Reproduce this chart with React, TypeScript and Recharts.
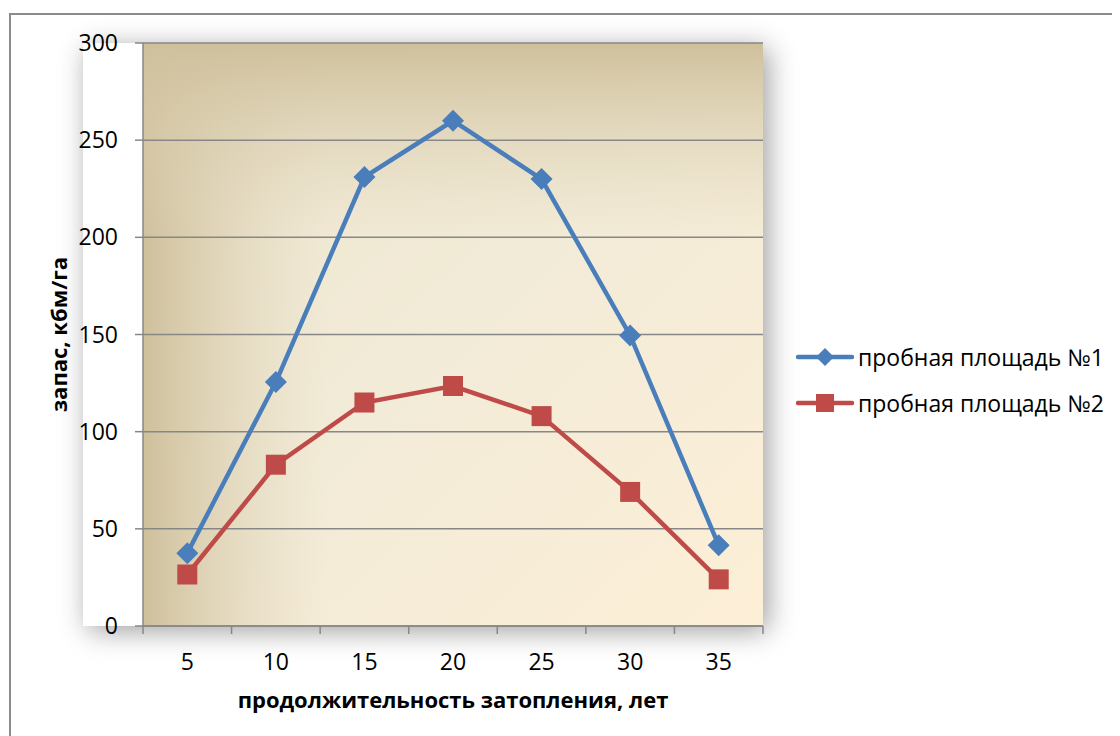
import React from 'react';
import { LineChart, Line, XAxis, YAxis, CartesianGrid, Legend } from 'recharts';

// Flooding duration, years
const years = [5, 10, 15, 20, 25, 30, 35];
// Growing stock, m3/ha
const plot1 = [37.5, 125.5, 231, 260, 230, 149.5, 41.5];
const plot2 = [26.5, 83, 115, 123.5, 108, 69, 24];
const yTicks = [0, 50, 100, 150, 200, 250, 300];

const seriesNames = ['пробная площадь №1', 'пробная площадь №2'];
const BLUE = '#4a7ebb';
const RED = '#be4b48';
const AXIS = '#878787';
const FONT = '"Open Sans", "Noto Sans", sans-serif';

const data = years.map((y, i) => ({ year: y, s1: plot1[i], s2: plot2[i] }));

const W = 1112;
const H = 728;
const M = { top: 35, right: 357, bottom: 50, left: 75 };
const X_AXIS_H = 60;
const PLOT_W = W - M.left - M.right;
const PLOT_H = H - M.top - M.bottom - X_AXIS_H;
const BAND = PLOT_W / years.length;

const DIAMOND_R = 11;
const SQUARE_S = 20;

const Diamond = (props: any) => {
  const { cx, cy, half } = props;
  if (cx == null || cy == null) return null;
  const r = half || DIAMOND_R;
  return (
    <path
      d={`M${cx},${cy - r} L${cx + r},${cy} L${cx},${cy + r} L${cx - r},${cy} Z`}
      fill={BLUE}
    />
  );
};

const Square = (props: any) => {
  const { cx, cy, side } = props;
  if (cx == null || cy == null) return null;
  const s = side || SQUARE_S;
  return <rect x={cx - s / 2} y={cy - s / 2} width={s} height={s} fill={RED} />;
};

const XTick = (props: any) => {
  const { x, y, payload, index } = props;
  const half = payload && payload.offset ? payload.offset : BAND / 2;
  const last = index === years.length - 1;
  return (
    <g>
      <line x1={x - half} x2={x - half} y1={y} y2={y + 8} stroke={AXIS} strokeWidth={1.5} />
      {last && (
        <line x1={x + half} x2={x + half} y1={y} y2={y + 8} stroke={AXIS} strokeWidth={1.5} />
      )}
      <text x={x} y={y + 44} textAnchor="middle" fontSize={23} fill="#000" fontFamily={FONT}>
        {payload.value}
      </text>
    </g>
  );
};

const LegendContent = () => (
  <div style={{ fontFamily: FONT, fontSize: 23, color: '#000' }}>
    {seriesNames.map((name, i) => (
      <div key={name} style={{ display: 'flex', alignItems: 'center', height: 46 }}>
        <svg width={62} height={24} style={{ display: 'block' }}>
          <line x1={2} x2={56} y1={12} y2={12} stroke={i === 0 ? BLUE : RED} strokeWidth={4.5} strokeLinecap="round" />
          {i === 0 ? <Diamond cx={29} cy={12} half={9} /> : <Square cx={29} cy={12} side={18} />}
        </svg>
        <span style={{ whiteSpace: 'nowrap' }}>{name}</span>
      </div>
    ))}
  </div>
);

export default function App() {
  return (
    <div style={{ position: 'relative', width: W, height: H, overflow: 'hidden', background: '#fff' }}>
      {/* outer chart frame */}
      <div
        style={{
          position: 'absolute',
          left: 1,
          top: 5,
          width: W + 40,
          height: H + 40,
          border: '2px solid #8c8c8c',
          boxSizing: 'border-box',
        }}
      />
      {/* plot area shadow */}
      <div
        style={{
          position: 'absolute',
          left: M.left,
          top: M.top,
          width: PLOT_W,
          height: PLOT_H,
          boxShadow: '5px 5px 26px rgba(0,0,0,0.38)',
        }}
      />
      <div style={{ position: 'absolute', left: 0, top: 0 }}>
        <LineChart width={W} height={H} data={data} margin={M}>
          <defs>
            <linearGradient id="bgBase" x1="0" y1="0" x2="1" y2="1">
              <stop offset="0" stopColor="#ede5cf" />
              <stop offset="0.5" stopColor="#f2ebd7" />
              <stop offset="1" stopColor="#fdefd7" />
            </linearGradient>
            <linearGradient id="bgLeft" x1="0" y1="0" x2="0.3" y2="0">
              <stop offset="0" stopColor="#cfc09c" stopOpacity={1} />
              <stop offset="1" stopColor="#e2d7bd" stopOpacity={0} />
            </linearGradient>
            <linearGradient id="bgTop" x1="0" y1="0" x2="0" y2="0.34">
              <stop offset="0" stopColor="#cfc09c" stopOpacity={1} />
              <stop offset="1" stopColor="#e2d7bd" stopOpacity={0} />
            </linearGradient>
          </defs>
          {/* layered plot background */}
          <CartesianGrid horizontal={false} vertical={false} stroke="none" fill="url(#bgBase)" fillOpacity={1} />
          <CartesianGrid horizontal={false} vertical={false} stroke="none" fill="url(#bgLeft)" fillOpacity={1} />
          <CartesianGrid horizontal={false} vertical={false} stroke="none" fill="url(#bgTop)" fillOpacity={1} />
          <CartesianGrid vertical={false} stroke={AXIS} strokeWidth={1.5} />
          <XAxis
            dataKey="year"
            type="category"
            scale="band"
            height={X_AXIS_H}
            axisLine={{ stroke: AXIS, strokeWidth: 1.5 }}
            tickLine={false}
            tickSize={0}
            tickMargin={0}
            interval={0}
            tick={<XTick />}
            label={{
              content: (p: any) => {
                const vb = p.viewBox || { x: M.left, y: M.top + PLOT_H, width: PLOT_W };
                return (
                  <text
                    x={vb.x + vb.width / 2}
                    y={vb.y + 82}
                    textAnchor="middle"
                    fontSize={22}
                    fontWeight="bold"
                    fontFamily={FONT}
                    fill="#000"
                  >
                    продолжительность затопления, лет
                  </text>
                );
              },
            }}
          />
          <YAxis
            type="number"
            domain={[0, 300]}
            ticks={yTicks}
            width={60}
            interval={0}
            axisLine={{ stroke: AXIS, strokeWidth: 1.5 }}
            tickLine={{ stroke: AXIS, strokeWidth: 1.5 }}
            tickSize={8}
            tickMargin={17}
            tick={{ fontSize: 23, fill: '#000', fontFamily: FONT }}
            label={{
              content: (p: any) => {
                const vb = p.viewBox || { x: 75, y: M.top, height: PLOT_H };
                const cx = vb.x - 25;
                const cy = vb.y + vb.height / 2;
                return (
                  <text
                    x={cx}
                    y={cy}
                    transform={`rotate(-90, ${cx}, ${cy})`}
                    textAnchor="middle"
                    dominantBaseline="central"
                    fontSize={22}
                    fontWeight="bold"
                    fontFamily={FONT}
                    fill="#000"
                  >
                    запас, кбм/га
                  </text>
                );
              },
            }}
          />
          <Legend
            layout="vertical"
            align="center"
            verticalAlign="middle"
            content={<LegendContent />}
            wrapperStyle={{ left: 788, top: 326, width: 330 }}
          />
          <Line
            type="linear"
            dataKey="s1"
            name={seriesNames[0]}
            stroke={BLUE}
            strokeWidth={4.5}
            dot={<Diamond />}
            activeDot={false}
            isAnimationActive={false}
          />
          <Line
            type="linear"
            dataKey="s2"
            name={seriesNames[1]}
            stroke={RED}
            strokeWidth={4.5}
            dot={<Square />}
            activeDot={false}
            isAnimationActive={false}
          />
        </LineChart>
      </div>
    </div>
  );
}
